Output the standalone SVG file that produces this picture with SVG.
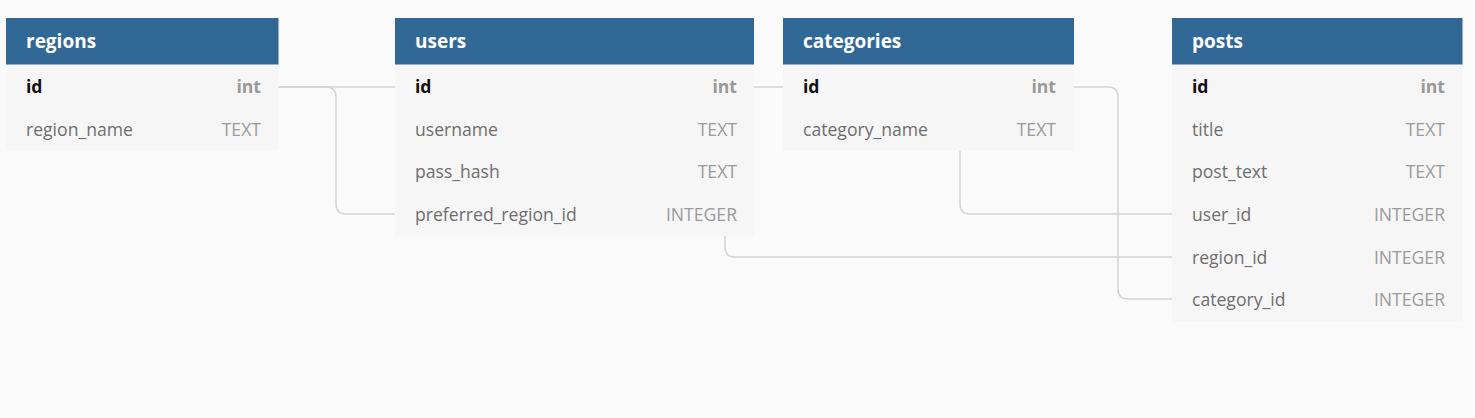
<svg xmlns="http://www.w3.org/2000/svg" width="1475" height="418" viewBox="0 0 1475 418">
<style>
.bg{fill:#fafafa}
.body{fill:#f6f6f6}
.hdr{fill:#316896}
.hline{stroke:#8fb0cf;stroke-width:1}
.title{font-family:"Open Sans",sans-serif;font-size:19px;font-weight:bold;fill:#ffffff}
.pk{font-family:"Open Sans",sans-serif;font-size:17.6px;font-weight:bold;fill:#111111}
.pkt{font-family:"Open Sans",sans-serif;font-size:17.6px;font-weight:bold;fill:#999999;text-anchor:end}
.f{font-family:"Open Sans",sans-serif;font-size:17.6px;fill:#6e6e6e}
.t{font-family:"Open Sans",sans-serif;font-size:17.6px;fill:#9a9a9a;text-anchor:end}
.conn{fill:none;stroke:#d4d4d4;stroke-width:1.5}
</style>
<rect class="bg" x="0" y="0" width="1475" height="418"/>
<g id="connectors">
<path class="conn" d="M278 87 H326 Q336 87 336 97 V204 Q336 214 346 214 H395"/>
<path class="conn" d="M278 87 H715 Q725 87 725 97 V247 Q725 257 735 257 H1172"/>
<path class="conn" d="M754 87 H950 Q960 87 960 97 V204 Q960 214 970 214 H1172"/>
<path class="conn" d="M1074 87 H1108 Q1118 87 1118 97 V289 Q1118 299 1128 299 H1172"/>
</g>
<g id="regions">
<rect class="body" x="6" y="65" width="272.5" height="85"/>
<rect class="hdr" x="6" y="18" width="272.5" height="47"/>
<line class="hline" x1="6" y1="64.5" x2="278.5" y2="64.5"/>
<text class="title" x="26" y="48">regions</text>
<text class="pk" x="26" y="93">id</text><text class="pkt" x="261" y="93">int</text>
<text class="f" x="26" y="136">region_name</text><text class="t" x="261" y="136">TEXT</text>
</g>
<g id="users">
<rect class="body" x="395" y="65" width="359" height="171"/>
<rect class="hdr" x="395" y="18" width="359" height="47"/>
<line class="hline" x1="395" y1="64.5" x2="754" y2="64.5"/>
<text class="title" x="415" y="48">users</text>
<text class="pk" x="415" y="93">id</text><text class="pkt" x="737" y="93">int</text>
<text class="f" x="415" y="136">username</text><text class="t" x="737" y="136">TEXT</text>
<text class="f" x="415" y="178">pass_hash</text><text class="t" x="737" y="178">TEXT</text>
<text class="f" x="415" y="221">preferred_region_id</text><text class="t" x="737" y="221">INTEGER</text>
</g>
<g id="categories">
<rect class="body" x="783" y="65" width="291" height="86"/>
<rect class="hdr" x="783" y="18" width="291" height="47"/>
<line class="hline" x1="783" y1="64.5" x2="1074" y2="64.5"/>
<text class="title" x="803" y="48">categories</text>
<text class="pk" x="803" y="93">id</text><text class="pkt" x="1056" y="93">int</text>
<text class="f" x="803" y="136">category_name</text><text class="t" x="1056" y="136">TEXT</text>
</g>
<g id="posts">
<rect class="body" x="1172" y="65" width="290.5" height="256.5"/>
<rect class="hdr" x="1172" y="18" width="290.5" height="47"/>
<line class="hline" x1="1172" y1="64.5" x2="1462.5" y2="64.5"/>
<text class="title" x="1192" y="48">posts</text>
<text class="pk" x="1192" y="93">id</text><text class="pkt" x="1445" y="93">int</text>
<text class="f" x="1192" y="136">title</text><text class="t" x="1445" y="136">TEXT</text>
<text class="f" x="1192" y="178">post_text</text><text class="t" x="1445" y="178">TEXT</text>
<text class="f" x="1192" y="221">user_id</text><text class="t" x="1445" y="221">INTEGER</text>
<text class="f" x="1192" y="264">region_id</text><text class="t" x="1445" y="264">INTEGER</text>
<text class="f" x="1192" y="306">category_id</text><text class="t" x="1445" y="306">INTEGER</text>
</g>
</svg>
